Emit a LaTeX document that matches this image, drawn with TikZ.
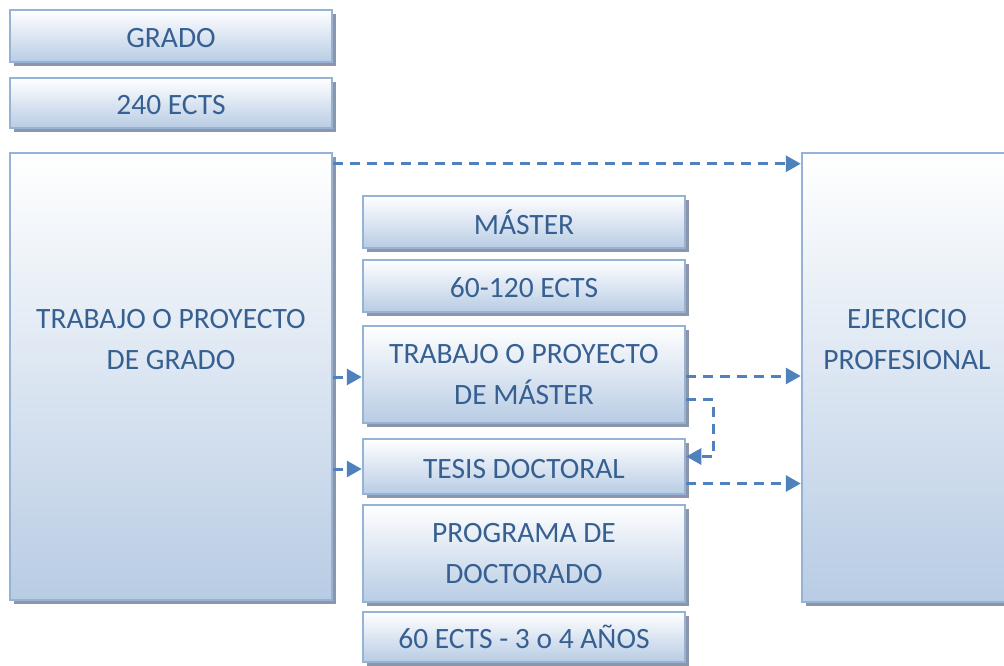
\documentclass[tikz,border=0pt]{standalone}
\usepackage{fontspec}
\setmainfont{Carlito}
\usetikzlibrary{arrows.meta,shadows}
\definecolor{boxborder}{RGB}{149,179,215}
\definecolor{boxbot}{RGB}{184,204,228}
\definecolor{txt}{RGB}{55,96,146}
\definecolor{arrc}{RGB}{79,129,189}
\definecolor{shadowc}{RGB}{140,150,168}
\tikzset{
  boxnode/.style={draw=boxborder, line width=2.5pt, top color=white, bottom color=boxbot,
    text=txt, align=center, inner sep=0pt, minimum width=322pt,
    font=\fontsize{29.5}{41}\selectfont,
    drop shadow={shadow xshift=4pt, shadow yshift=-4pt, fill=shadowc, opacity=1}},
  labeltext/.style={text=txt, align=center, font=\fontsize{29.5}{41}\selectfont},
  arr/.style={draw=arrc, line width=3pt, dash pattern=on 10pt off 7pt,
    -{Triangle[length=15pt,width=16pt]}}
}
\begin{document}
\begin{tikzpicture}[x=1pt,y=-1pt]
\useasboundingbox (0,0) rectangle (1004,665);
\clip (0,0) rectangle (1004,665);
% left column
\node[boxnode, minimum height=52pt] (grado) at (171,36) {\rule{0pt}{0.8em}GRADO};
\node[boxnode, minimum height=50pt] (ects240) at (171,103) {\rule{0pt}{0.8em}240 ECTS};
\node[boxnode, minimum height=447pt] (left) at (171,376.5) {};
\node[labeltext] (lefttext) at (171,340) {TRABAJO O PROYECTO\\DE GRADO};
% middle column
\node[boxnode, minimum height=52pt] (master) at (524,222) {\rule{0pt}{0.8em}MÁSTER};
\node[boxnode, minimum height=52pt] (ects60) at (524,286) {\rule{0pt}{0.8em}60-120 ECTS};
\node[boxnode, minimum height=97pt] (tmaster) at (524,374.5) {TRABAJO O PROYECTO\\DE MÁSTER};
\node[boxnode, minimum height=55pt] (tesis) at (524,466.5) {\rule{0pt}{0.8em}TESIS DOCTORAL};
\node[boxnode, minimum height=97pt] (prog) at (524,553.5) {PROGRAMA DE\\DOCTORADO};
\node[boxnode, minimum height=50pt] (ectsdoc) at (524,637) {\rule{0pt}{0.8em}60 ECTS - 3 o 4 AÑOS};
% right column
\node[boxnode, minimum width=210pt, minimum height=449pt] (ejer) at (907,377.5) {};
\node[labeltext] (ejertext) at (907,340) {EJERCICIO\\PROFESIONAL};
% connectors
\draw[arr] ([yshift=-12pt]left.north east) -- ([yshift=-12pt]left.north east -| ejer.west);
\draw[arr] ([yshift=-2.5pt]tmaster.west -| left.east) -- ([yshift=-2.5pt]tmaster.west);
\draw[arr] ([yshift=-2.5pt]tesis.west -| left.east) -- ([yshift=-2.5pt]tesis.west);
\draw[arr] ([yshift=-1.5pt]tmaster.east) -- ([yshift=-1.5pt]tmaster.east -| ejer.west);
\draw[arr] ([yshift=-25pt]tmaster.east) -- ++(27,0) |- ([yshift=10pt]tesis.east);
\draw[arr] ([yshift=-17pt]tesis.east) -- ([yshift=-17pt]tesis.east -| ejer.west);
\end{tikzpicture}
\end{document}
